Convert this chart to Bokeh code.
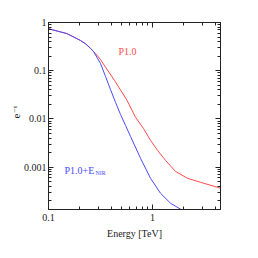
from bokeh.plotting import figure
from bokeh.models import LogAxis, FixedTicker, CustomJSTickFormatter, Label, Range1d
from bokeh.embed import file_html
from bokeh.resources import INLINE

# data
energy_red = [0.1, 0.15, 0.203, 0.227, 0.254, 0.271, 0.283, 0.316, 0.353, 0.431, 0.569, 0.687, 0.818, 0.957,
              1.117, 1.332, 1.66, 2.17, 2.9, 4.22, 4.51]
tau_red = [0.741, 0.59, 0.424, 0.362, 0.29, 0.25, 0.228, 0.171, 0.119, 0.063, 0.0243, 0.0108, 0.00638, 0.0036,
           0.00224, 0.00139, 0.00082, 0.000589, 0.000487, 0.000383, 0.000366]
energy_blue = [0.1, 0.15, 0.203, 0.227, 0.254, 0.271, 0.316, 0.353, 0.394, 0.441, 0.492, 0.55, 0.614, 0.767,
               0.957, 1.194, 1.49, 1.94, 2.1]
tau_blue = [0.741, 0.59, 0.424, 0.362, 0.29, 0.25, 0.142, 0.0762, 0.041, 0.0221, 0.01245, 0.00736, 0.00436,
            0.00153, 0.000589, 0.000288, 0.000179, 0.000128, 0.000112]

x_ticks = [0.1, 1]
y_ticks = [0.001, 0.01, 0.1, 1]

FONT = "Liberation Serif"
RED = "#ff4a4a"
BLUE = "#4a4aff"
INK = "#222222"

p = figure(width=250, height=250, x_axis_type="log", y_axis_type="log",
           x_range=Range1d(0.1, 4.5), y_range=Range1d(1.33e-4, 1.0),
           output_backend="svg", toolbar_location=None,
           min_border_left=48, min_border_right=30, min_border_top=22, min_border_bottom=41)
p.grid.visible = False
p.background_fill_color = "white"
p.border_fill_color = "white"
p.outline_line_color = INK

x_minor = [m * 10 ** k for k in (-1, 0) for m in range(2, 10)]
y_minor = [m * 10 ** k for k in (-4, -3, -2, -1) for m in range(2, 10)]
fmt = CustomJSTickFormatter(code="return tick.toString();")
blank = CustomJSTickFormatter(code="return '';")

def style(ax, ticks, minor, labels=True):
    ax.ticker = FixedTicker(ticks=ticks, minor_ticks=minor)
    ax.formatter = fmt if labels else blank
    ax.major_tick_in = 5
    ax.major_tick_out = 0
    ax.minor_tick_in = 3
    ax.minor_tick_out = 0
    ax.axis_line_color = INK
    ax.major_tick_line_color = INK
    ax.minor_tick_line_color = INK
    ax.major_label_text_font = FONT
    ax.major_label_text_font_size = "10px"
    ax.major_label_text_color = INK
    ax.axis_label_text_font = FONT
    ax.axis_label_text_font_size = "10px"
    ax.axis_label_text_font_style = "normal"
    ax.axis_label_text_color = INK

style(p.xaxis[0], x_ticks, x_minor)
style(p.yaxis[0], y_ticks, y_minor)
p.xaxis[0].axis_label = "Energy [TeV]"
p.xaxis[0].major_label_standoff = 4
p.xaxis[0].axis_label_standoff = 4
p.yaxis[0].major_label_standoff = 2
p.yaxis[0].axis_label = "e"
p.yaxis[0].axis_label_text_font_size = "11px"
p.yaxis[0].axis_label_standoff = 1

top = LogAxis()
style(top, x_ticks, x_minor, labels=False)
p.add_layout(top, "above")
right = LogAxis()
style(right, y_ticks, y_minor, labels=False)
p.add_layout(right, "right")

# second left axis, carrying only the superscript of the y label
sup = LogAxis(ticker=FixedTicker(ticks=[], minor_ticks=[]), formatter=blank)
sup.axis_line_color = None
sup.major_tick_in = 0
sup.major_tick_out = 0
sup.minor_tick_in = 0
sup.minor_tick_out = 0
sup.major_label_standoff = 0
sup.axis_label = "\u2003\u2003\u2212\u03c4"
sup.axis_label_text_font = FONT
sup.axis_label_text_font_size = "7px"
sup.axis_label_text_font_style = "normal"
sup.axis_label_text_color = INK
sup.axis_label_standoff = -9
p.add_layout(sup, "left")

p.line(energy_red, tau_red, line_color=RED, line_width=1)
p.line(energy_blue, tau_blue, line_color=BLUE, line_width=1)

# annotations
p.add_layout(Label(x=0.1, y=1.0, text="z=0.186", x_offset=0, y_offset=2,
                   text_font=FONT, text_font_size="10px", text_color=INK))
p.add_layout(Label(x=0.471, y=0.25, text="P1.0", text_font=FONT, text_font_size="10px",
                   text_color=RED, text_baseline="middle"))
p.add_layout(Label(x=0.1426, y=8.6e-4, text="P1.0+E", text_font=FONT, text_font_size="10px",
                   text_color=BLUE, text_baseline="middle"))
p.add_layout(Label(x=0.1426, y=8.6e-4, text="NIR", text_font=FONT, text_font_size="6px",
                   text_color=BLUE, text_baseline="middle", x_offset=31, y_offset=-3))

open("out.html", "w").write(file_html(p, INLINE))
